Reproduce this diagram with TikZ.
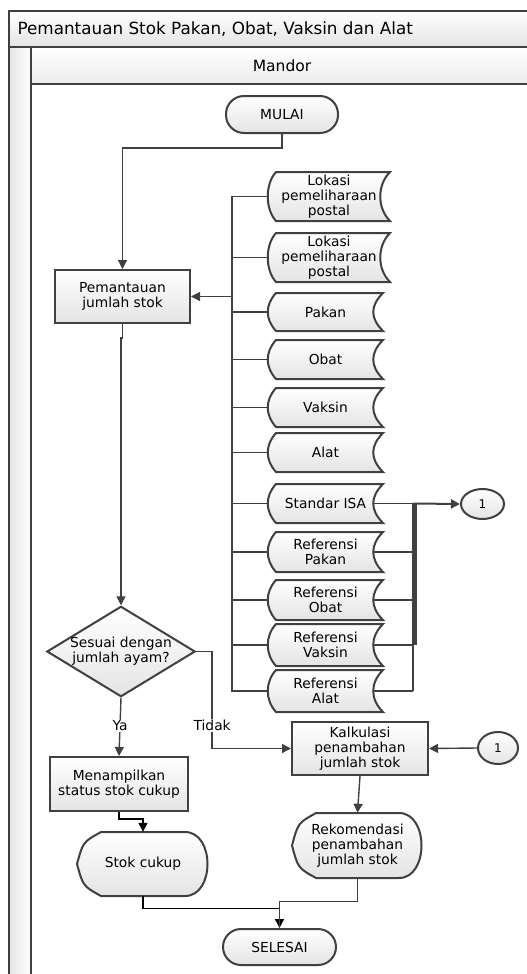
\documentclass[tikz,border=0pt]{standalone}
\usepackage{fontspec}
\setmainfont{DejaVu Sans}
\usetikzlibrary{shapes.geometric,arrows.meta}

\definecolor{garis}{RGB}{64,64,64}
\definecolor{abu}{RGB}{228,228,228}

\tikzset{
  bentuk/.style={draw=garis, line width=2pt, top color=white, bottom color=abu},
  teks/.style={align=center, font=\fontsize{13.8}{15}\selectfont, inner sep=0pt},
  terminal/.style={bentuk, teks, rectangle, rounded corners=18pt, minimum width=112pt, minimum height=37pt},
  proses/.style={bentuk, teks, rectangle, minimum width=136pt, minimum height=53pt},
  keputusan/.style={bentuk, teks, diamond, aspect=1.64, minimum width=146pt, minimum height=87pt},
  konektor/.style={bentuk, teks, ellipse, minimum width=42pt, minimum height=30pt},
  garisan/.style={draw=garis, line width=1.4pt},
  panah/.style={garisan, -{Triangle[length=9pt,width=9pt]}},
  label/.style={fill=white, font=\fontsize{13.8}{15}\selectfont, inner sep=1pt}
}

% stored data shape: name, x, y, width, height, text
\newcommand{\simpan}[6]{%
  \draw[bentuk] ({#2-#4/2+8},{#3-#5/2}) -- ({#2+#4/2},{#3-#5/2})
    .. controls ({#2+#4/2-13},{#3-#5/2+13}) and ({#2+#4/2-13},{#3+#5/2-13}) .. ({#2+#4/2},{#3+#5/2})
    -- ({#2-#4/2+8},{#3+#5/2})
    .. controls ({#2-#4/2-3},{#3+#5/2-12}) and ({#2-#4/2-3},{#3-#5/2+12}) .. cycle;
  \node[teks, minimum width=#4pt, minimum height=#5pt] (#1) at (#2,#3) {#6};}

% display shape: name, x, y, width, height, text
\newcommand{\tampil}[6]{%
  \draw[bentuk] ({#2-#4/2},#3) .. controls ({#2-#4/2+6},{#3-#5/2+10}) .. ({#2-#4/2+24},{#3-#5/2})
    -- ({#2+#4/2-24},{#3-#5/2})
    .. controls ({#2+#4/2+6},{#3-#5/2}) and ({#2+#4/2+6},{#3+#5/2}) .. ({#2+#4/2-24},{#3+#5/2})
    -- ({#2-#4/2+24},{#3+#5/2}) .. controls ({#2-#4/2+6},{#3+#5/2-10}) .. cycle;
  \node[teks, minimum width=#4pt, minimum height=#5pt] (#1) at (#2,#3) {#6};}

\begin{document}
\begin{tikzpicture}[x=1pt, y=-1pt]
  \useasboundingbox (0,0) rectangle (527,974);

  % Swimlane frame
  \shade[left color=abu, right color=white] (9,47) rectangle (31,990);
  \shade[top color=white, bottom color=abu] (9,11) rectangle (540,47);
  \shade[top color=white, bottom color=abu!70] (31,47) rectangle (540,84);
  \draw[draw=garis, line width=2.6pt] (540,11) -- (9,11) -- (9,990);
  \draw[draw=garis, line width=2.6pt] (9,47) -- (540,47);
  \draw[draw=garis, line width=2.6pt] (31,47) -- (31,990);
  \draw[draw=garis, line width=2.6pt] (31,84) -- (540,84);
  \node[anchor=west, font=\fontsize{16.8}{18}\selectfont] (judul) at (14,29.5) {Pemantauan Stok Pakan, Obat, Vaksin dan Alat};
  \node[font=\fontsize{15.5}{18}\selectfont] (mandor) at (282,66) {Mandor};

  % Process nodes
  \node[terminal] (mulai) at (282,114.5) {MULAI};
  \node[proses, minimum width=135pt] (pantau) at (122.5,296.5) {Pemantauan\\jumlah stok};
  \node[keputusan] (cek) at (121,651.5) {Sesuai dengan\\jumlah ayam?};
  \node[proses, minimum width=138pt, minimum height=54pt] (tampil) at (119,784) {Menampilkan\\status stok cukup};
  \node[proses] (hitung) at (360,748.5) {Kalkulasi\\penambahan\\jumlah stok};
  \node[terminal, minimum width=113pt, minimum height=36pt] (selesai) at (279.5,947) {SELESAI};

  % Data stores
  \simpan{lokasia}{329}{196.5}{122}{49}{Lokasi\\pemeliharaan\\postal}
  \simpan{lokasib}{329}{257.5}{122}{49}{Lokasi\\pemeliharaan\\postal}
  \simpan{pakan}{325.5}{312}{115}{38}{Pakan}
  \simpan{obat}{325.5}{359.5}{115}{39}{Obat}
  \simpan{vaksin}{325.5}{407.5}{115}{39}{Vaksin}
  \simpan{alat}{325.5}{452.5}{115}{39}{Alat}
  \simpan{isa}{325.5}{503.5}{115}{39}{Standar ISA}
  \simpan{refpakan}{325.5}{552}{115}{40}{Referensi\\Pakan}
  \simpan{refobat}{325.5}{600}{115}{40}{Referensi\\Obat}
  \simpan{refvaksin}{325.5}{645}{115}{42}{Referensi\\Vaksin}
  \simpan{refalat}{325.5}{691}{115}{42}{Referensi\\Alat}

  % Displays
  \tampil{cukup}{143}{864}{132}{64}{Stok cukup}
  \tampil{rekom}{357.5}{845.5}{131}{65}{Rekomendasi\\penambahan\\jumlah stok}

  % Off-page connectors
  \node[konektor, minimum width=43pt, font=\fontsize{12}{14}\selectfont] (satua) at (482.5,504) {1};
  \node[konektor, minimum width=40pt, minimum height=32pt, font=\fontsize{12}{14}\selectfont] (satub) at (498,748) {1};

  % Left bus
  \coordinate (bus) at (232,196.5);
  \draw[garisan] (lokasia.west) -- (bus) -- (bus |- refalat.west) -- (refalat.west);
  \foreach \n in {lokasib,pakan,obat,vaksin,alat,isa,refpakan,refobat,refvaksin}
    \draw[garisan] (bus |- \n.west) -- (\n.west);
  \draw[panah] (bus |- pantau.east) -- (pantau.east);

  % Right bus
  \coordinate (kanan) at (413,503.5);
  \foreach \n in {isa,refpakan,refobat,refvaksin,refalat}
    \draw[garisan] ([xshift=-10pt]\n.east) -- (kanan |- \n.east);
  \draw[garisan] (kanan) -- (kanan |- refalat.east);
  \draw[draw=garis, line width=3pt] ([xshift=2pt]kanan) -- ([xshift=2pt]kanan |- refvaksin.east);
  \draw[panah, line width=2pt] (kanan) -- (satua.west);

  % Flow
  \draw[panah] (mulai.south) -- ++(0,14) -| (pantau.north);
  \draw[panah] (pantau.south) -- ++(0,14) -| (cek.north);
  \draw[panah] (cek.south) -- node[label, pos=0.48] {Ya} (tampil.north);
  \draw[panah] (cek.east) -- ++(16,0) |- node[label, pos=0.38] {Tidak} (hitung.west);
  \draw[panah] (satub.west) -- (hitung.east);
  \draw[panah] (hitung.south) -- (rekom.north);
  \draw[panah, draw=black] (tampil.south) -- ++(0,7) -| (cukup.north);
  \draw[panah, draw=black] (cukup.south) -- ++(0,12) -| (selesai.north);
  \draw[garisan] (rekom.south) -- ++(0,23) -| (selesai.north);

\end{tikzpicture}
\end{document}
